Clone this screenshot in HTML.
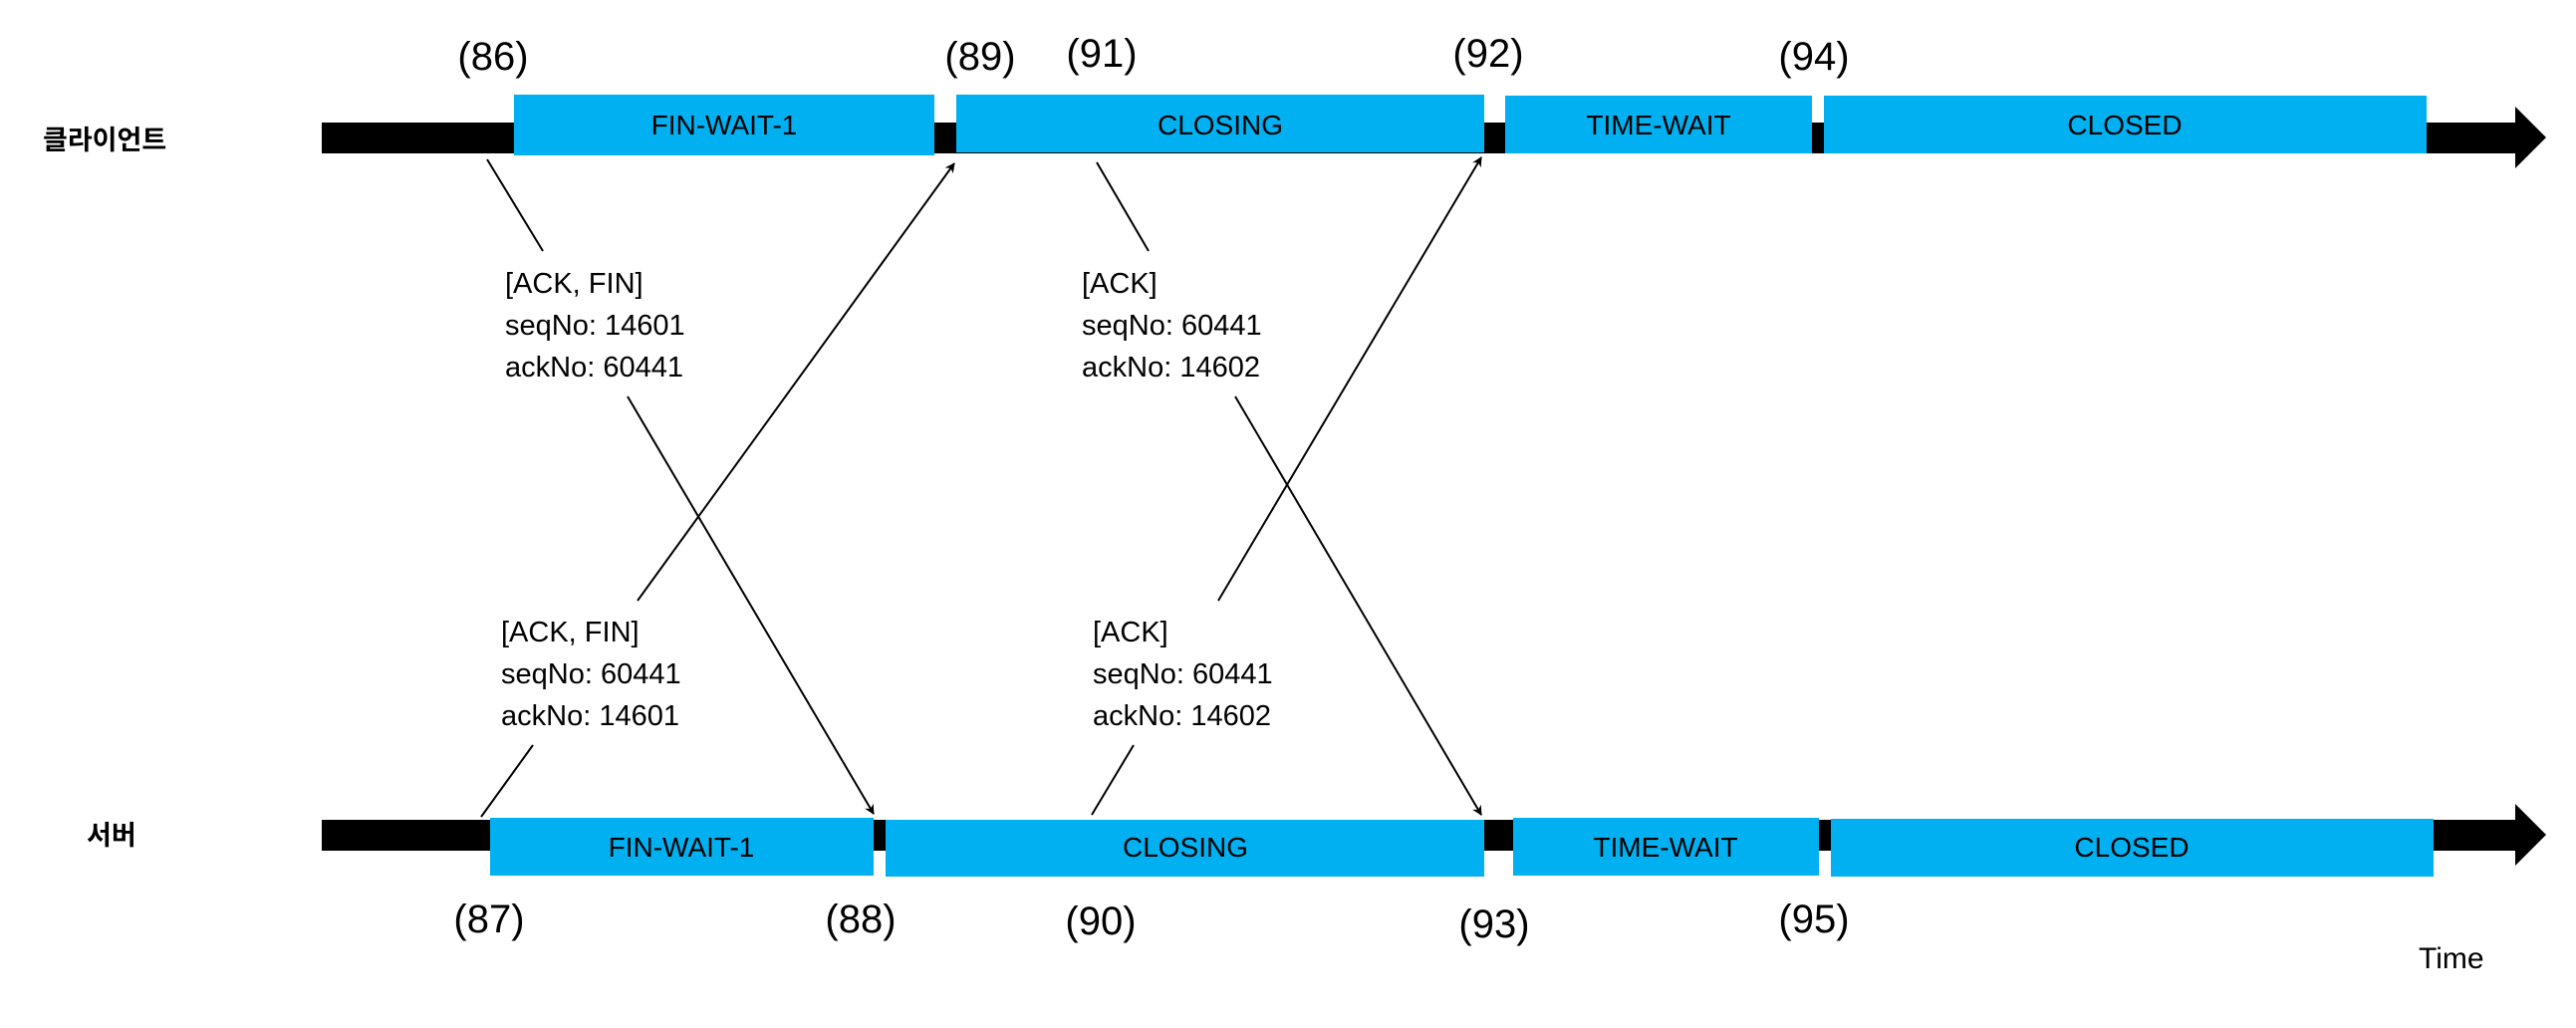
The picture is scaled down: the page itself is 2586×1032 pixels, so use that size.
<!DOCTYPE html>
<html><head><meta charset="utf-8"><style>
html,body{margin:0;padding:0;background:#fff;}
svg{display:block;}
text{font-family:"Liberation Sans","Noto Sans CJK KR",sans-serif;fill:#000;}
</style></head><body>
<svg width="2586" height="1032" viewBox="0 0 2586 1032" xmlns="http://www.w3.org/2000/svg">
<defs>
<marker id="ah" markerWidth="10" markerHeight="10" refX="9" refY="5" orient="auto" markerUnits="userSpaceOnUse" viewBox="0 0 10 10">
<path d="M0,0 L10,5 L0,10 L3,5 z" fill="#000"/>
</marker>
</defs>
<!-- client bar -->
<rect x="323" y="123" width="2202" height="31" fill="#000"/>
<polygon points="2525,107 2556,138 2525,169" fill="#000"/>
<rect x="516" y="95" width="422" height="61" fill="#00b0f0"/>
<rect x="960" y="95" width="530" height="58" fill="#00b0f0"/>
<rect x="1511" y="96" width="308" height="58" fill="#00b0f0"/>
<rect x="1831" y="96" width="605" height="58" fill="#00b0f0"/>
<!-- server bar -->
<rect x="323" y="823" width="2202" height="31" fill="#000"/>
<polygon points="2525,807 2556,838 2525,869" fill="#000"/>
<rect x="492" y="821" width="385" height="58" fill="#00b0f0"/>
<rect x="889" y="823" width="601" height="57" fill="#00b0f0"/>
<rect x="1519" y="821" width="307" height="58" fill="#00b0f0"/>
<rect x="1838" y="822" width="605" height="58" fill="#00b0f0"/>
<!-- box labels -->
<g font-size="28" text-anchor="middle">
<text x="727" y="135">FIN-WAIT-1</text>
<text x="1225" y="135">CLOSING</text>
<text x="1665" y="135">TIME-WAIT</text>
<text x="2133" y="135">CLOSED</text>
<text x="684" y="860">FIN-WAIT-1</text>
<text x="1190" y="860">CLOSING</text>
<text x="1672" y="860">TIME-WAIT</text>
<text x="2140" y="860">CLOSED</text>
</g>
<!-- side labels -->
<text x="43" y="150" font-size="27" font-weight="bold">클라이언트</text>
<text x="87" y="848" font-size="27" font-weight="bold">서버</text>
<!-- numbers -->
<g font-size="40" text-anchor="middle">
<text x="495" y="70">(86)</text>
<text x="984" y="70">(89)</text>
<text x="1106" y="67">(91)</text>
<text x="1494" y="67">(92)</text>
<text x="1821" y="70">(94)</text>
<text x="491" y="936">(87)</text>
<text x="864" y="936">(88)</text>
<text x="1105" y="938">(90)</text>
<text x="1500" y="941">(93)</text>
<text x="1821" y="936">(95)</text>
</g>
<text x="2428" y="972" font-size="30">Time</text>
<!-- packet labels -->
<g font-size="29">
<text x="507" y="294">[ACK, FIN]</text>
<text x="507" y="336">seqNo: 14601</text>
<text x="507" y="378">ackNo: 60441</text>
<text x="1086" y="294">[ACK]</text>
<text x="1086" y="336">seqNo: 60441</text>
<text x="1086" y="378">ackNo: 14602</text>
<text x="503" y="644">[ACK, FIN]</text>
<text x="503" y="686">seqNo: 60441</text>
<text x="503" y="728">ackNo: 14601</text>
<text x="1097" y="644">[ACK]</text>
<text x="1097" y="686">seqNo: 60441</text>
<text x="1097" y="728">ackNo: 14602</text>
</g>
<!-- connectors -->
<g stroke="#000" stroke-width="2" fill="none">
<line x1="489" y1="160" x2="545" y2="252"/>
<line x1="630" y1="398" x2="877" y2="817" marker-end="url(#ah)"/>
<line x1="483" y1="820" x2="535" y2="748"/>
<line x1="640" y1="603" x2="958" y2="164" marker-end="url(#ah)"/>
<line x1="1101" y1="163" x2="1153" y2="252"/>
<line x1="1240" y1="398" x2="1487" y2="818" marker-end="url(#ah)"/>
<line x1="1096" y1="818" x2="1138" y2="748"/>
<line x1="1223" y1="603" x2="1487" y2="158" marker-end="url(#ah)"/>
</g>
</svg>
</body></html>
